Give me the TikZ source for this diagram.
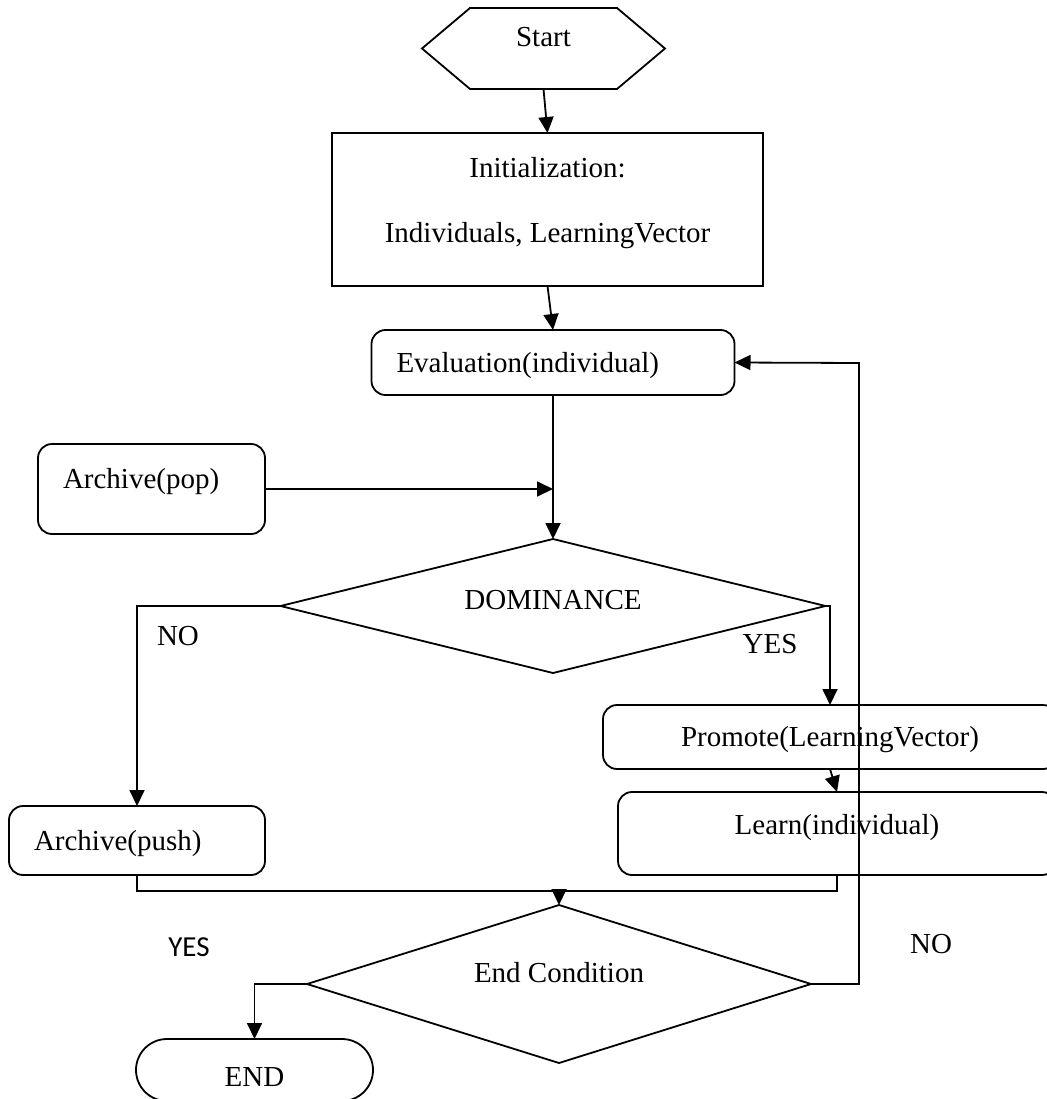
\documentclass[tikz,border=0pt]{standalone}
\usepackage{fontspec}
\setmainfont{Liberation Serif}
\newfontfamily\calibri{Carlito}
\usetikzlibrary{shapes.geometric, arrows.meta, positioning}
\tikzstyle{block}=[draw,rectangle,line width=1.8pt,outer sep=0pt]
\tikzstyle{rblock}=[block,rounded corners=14pt]
\tikzstyle{decision}=[draw,diamond,line width=1.8pt,outer sep=0pt,inner sep=0pt]
\tikzstyle{conn}=[line width=1.8pt]
\tikzstyle{every node}=[font=\fontsize{29}{35}\selectfont]

\begin{document}
\begin{tikzpicture}[x=1pt,y=-1pt,>={Triangle[length=16pt,width=15pt]}]
    \useasboundingbox (0,0) rectangle (1046,1099);
    \node[outer sep=0pt, inner sep=0pt, minimum width=147pt, minimum height=81pt, text height=20pt, text depth=23.8pt] (start) at (543.5,48.5) {Start};
    \draw[conn] (start.north west) -- (start.north east) -- ([xshift=48pt]start.east) -- (start.south east) -- (start.south west) -- ([xshift=-48pt]start.west) -- cycle;
    \node[block, minimum width=431pt, minimum height=153pt, align=center, text depth=20pt] (init) at (547.5,209.5) {Initialization:\\[30pt]Individuals, LearningVector};
    \node[rblock, minimum width=363pt, minimum height=65pt, text width=313pt, inner xsep=25pt, align=left, text height=20pt, text depth=0pt] (eval) at (553,362.5) {Evaluation(individual)};
    \node[rblock, minimum width=227pt, minimum height=90pt, text width=177pt, inner xsep=25pt, align=left, text height=20pt, text depth=20.8pt] (pop) at (151.5,489) {Archive(pop)};
    \node[decision, aspect=4.07, minimum width=545pt, minimum height=134pt, text height=20pt, text depth=13pt] (dom) at (553,606) {DOMINANCE};
    \node[rblock, minimum width=454pt, minimum height=64pt, text height=20pt, text depth=0.8pt] (promote) at (830,737) {Promote(LearningVector)};
    \node[rblock, minimum width=438pt, minimum height=83pt, text height=20pt, text depth=17.8pt] (learn) at (837,833.5) {Learn(individual)};
    \node[rblock, minimum width=256pt, minimum height=69pt, text width=206pt, inner xsep=25pt, align=left, text height=20pt, text depth=0pt] (push) at (137,840.5) {Archive(push)};
    \node[decision, aspect=3.19, minimum width=504pt, minimum height=158pt, text height=20pt, text depth=22.8pt] (endc) at (559,984) {End Condition};
    \node[block, rounded corners=31pt, minimum width=237pt, minimum height=62pt, text height=33pt, text depth=0pt] (stop) at (254.5,1070) {END};
    % branch labels
    \node (domno) at (178,636) {NO};
    \node (domyes) at (770,644) {YES};
    \node[font=\calibri\fontsize{29}{35}\selectfont] (endyes) at (189,947) {YES};
    \node (endno) at (931,944) {NO};
    \coordinate (merge) at (559,891);
    \coordinate (back) at (859,363);
    \draw[conn,->] (start.south) -- (init.north);
    \draw[conn,->] (init.south) -- (eval.north);
    \draw[conn,->] (eval.south) -- (dom.north);
    \draw[conn,->] (pop.east) -- (pop.east -| dom.north);
    \draw[conn,->] (dom.west) -| (push.north);
    \draw[conn,->] (dom.east) -| (promote.north);
    \draw[conn,->] (promote.south) -- (learn.north);
    \draw[conn] (push.south) |- (merge);
    \draw[conn] (learn.south) |- (merge);
    \draw[conn,->] (merge) -- (endc.north);
    \draw[conn,->] (endc.west) -| (stop.north);
    \draw[conn,->] (endc.east) -| (back) -- (eval.east);
\end{tikzpicture}
\end{document}
